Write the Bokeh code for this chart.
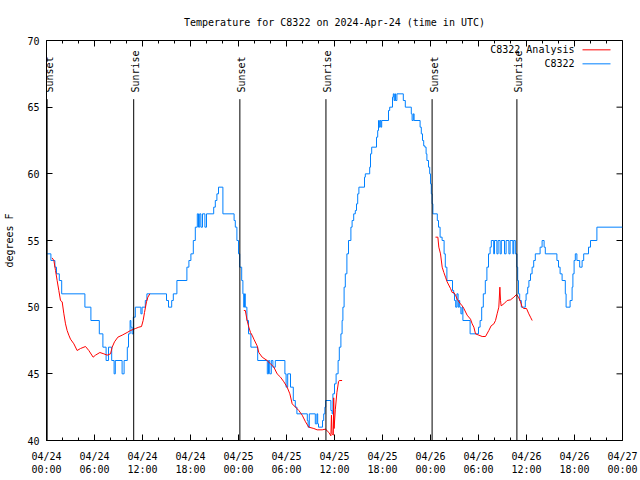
import math
from bokeh.plotting import figure
from bokeh.models import Range1d, FixedTicker
from bokeh.core.properties import value
from bokeh.embed import file_html
from bokeh.resources import INLINE

# ---------------- data ----------------
title_text = "Temperature for C8322 on 2024-Apr-24 (time in UTC)"
y_label = "degrees F"
series_names = ["C8322 Analysis", "C8322"]

# x is hours since 04/24 00:00 UTC
x_ticks = [0, 6, 12, 18, 24, 30, 36, 42, 48, 54, 60, 66, 72]
x_tick_labels = ["04/24\n00:00", "04/24\n06:00", "04/24\n12:00", "04/24\n18:00",
                 "04/25\n00:00", "04/25\n06:00", "04/25\n12:00", "04/25\n18:00",
                 "04/26\n00:00", "04/26\n06:00", "04/26\n12:00", "04/26\n18:00",
                 "04/27\n00:00"]
x_minor = list(range(0, 73, 2))
y_ticks = [40, 45, 50, 55, 60, 65, 70]

event_hours = [0.08, 10.9, 24.17, 34.93, 48.2, 58.8]
event_labels = ["Sunset", "Sunrise", "Sunset", "Sunrise", "Sunset", "Sunrise"]

# C8322 observations (step changes)
obs_h = [0.08, 0.55, 1.05, 1.25, 1.6, 1.9, 4.8, 5.55, 6.6, 7.05, 7.45, 7.75, 8.15, 8.45, 8.6,
         9.45, 9.7, 10.1, 10.25, 10.45, 10.55, 10.7, 10.85, 11.1, 11.8, 11.95, 12.35, 12.55,
         15.0, 15.25, 15.65, 15.85, 16.3, 17.55, 17.8, 18.05, 18.35, 18.6, 18.85, 19.0, 19.15,
         19.3, 19.5, 19.8, 20.0, 20.9, 21.1, 21.3, 21.5, 22.05, 23.45, 23.6, 23.8, 24.0, 24.15,
         24.4, 24.55, 24.65, 24.75, 24.85, 25.05, 25.25, 25.55, 26.4, 27.6, 27.75, 27.9, 28.1,
         28.3, 28.6, 29.8, 29.95, 30.15, 30.5, 30.85, 31.1, 31.3, 32.6, 32.7, 32.85, 33.6, 33.8,
         33.9, 34.0, 34.5, 34.65, 34.8, 34.9, 35.55, 35.7, 35.8, 36.0, 36.2, 36.45, 36.6, 36.8,
         36.95, 37.05, 37.2, 37.35, 37.55, 37.75, 38.05, 38.2, 38.4, 38.6, 38.75, 38.9, 39.05,
         39.75, 39.85, 40.4, 40.5, 40.65, 41.25, 41.4, 41.5, 41.6, 41.7, 41.8, 41.9, 42.75, 42.9,
         43.25, 43.35, 43.45, 43.55, 43.62, 43.8, 44.6, 44.85, 45.6, 45.7, 45.85, 45.95, 46.7,
         46.85, 47.0, 47.15, 47.3, 47.45, 47.55, 47.75, 47.9, 48.0, 48.1, 48.2, 48.3, 48.85,
         49.0, 49.2, 49.45, 49.7, 49.85, 50.05, 50.75, 50.9, 51.0, 51.15, 51.3, 51.45, 51.55,
         51.65, 51.8, 51.95, 52.05, 52.95, 54.0, 54.2, 54.4, 54.6, 54.85, 55.05, 55.25, 55.45,
         55.6, 55.9, 56.0, 56.3, 56.45, 56.7, 56.85, 57.25, 57.45, 57.8, 57.95, 58.3, 58.4,
         58.6, 58.8, 58.9, 59.0, 59.15, 59.35, 59.85, 59.95, 60.15, 60.3, 60.5, 60.7, 60.9,
         61.1, 61.7, 61.95, 62.2, 62.35, 63.8, 64.0, 64.2, 64.45, 64.85, 64.95, 65.45, 65.7,
         65.8, 65.95, 66.1, 66.3, 66.65, 66.95, 67.15, 67.75, 68.0, 68.8, 72.0]
obs_t = [54, 53.5, 53, 52.5, 52, 51, 50, 49, 48, 47, 46, 47, 46, 45, 46,
         45, 46, 47, 48, 49, 48.5, 48, 49.25, 50, 49.5, 50, 50.5, 51,
         50.5, 50, 50.5, 51, 52, 53, 53.5, 54, 55, 56, 57, 56, 57,
         56, 57, 56, 57, 57.5, 58, 58.5, 59, 57, 56.5, 56, 55, 54, 53,
         52, 51, 50, 51, 50, 49, 48, 47, 46, 45, 46, 45, 46,
         45.5, 46, 45, 44, 45, 44, 43, 42.5, 42, 41.5, 41, 42, 41.25, 42,
         41.25, 41, 41.5, 42, 42.5, 43, 42.25, 42, 43.5, 44.25, 45, 46, 47, 48,
         49, 50, 51.5, 52.5, 54, 55, 56, 56.5, 57, 57.25, 57.75, 58.5, 59,
         59.75, 60, 60.5, 61.5, 62, 62.75, 63.25, 64, 63.5, 64, 63.5, 64, 64.75, 65,
         65.75, 66, 65.5, 66, 65.5, 66, 65.5, 65, 64.5, 64, 64.5, 64, 63.5,
         63, 62.5, 62.1, 62, 61.5, 61, 60.5, 60, 59.25, 58.5, 57.75, 57, 56.5,
         56, 55.25, 55, 54, 53, 52, 51.25, 51, 50.5, 50, 51, 50, 50.5,
         50, 49.5, 50, 49, 48, 48.5, 49, 50, 51, 52, 53, 54, 54.5,
         55, 54, 55, 54, 55, 54, 55, 54, 55, 54, 55, 54, 55,
         54, 53, 52, 51, 50.5, 50, 50.5, 51, 51.5, 52, 52.5, 53, 53.5,
         54, 54.5, 55, 54.5, 54, 53.5, 53, 52.5, 52, 51, 50, 50.5, 51.5,
         52.5, 53.5, 54, 53.5, 53, 53.5, 54, 54.5, 55, 56, 56]

# C8322 Analysis (three runs)
ana1_h = [0.7, 0.92, 1.125, 1.33, 1.54, 1.75, 1.96, 2.17, 2.375, 2.58, 2.79, 3.0, 3.42, 3.83,
          4.25, 4.875, 5.29, 5.83, 6.125, 6.67, 7.17, 7.58, 8.0, 8.21, 8.5, 8.92, 9.46, 10.08,
          10.5, 11.125, 11.54, 11.875, 12.08, 12.25, 12.5, 12.67, 12.92]
ana1_t = [53.7, 53.5, 52.75, 52.0, 51.25, 50.5, 50.4, 49.5, 48.75, 48.25, 47.9, 47.6, 47.25, 46.75,
          46.9, 47.05, 46.75, 46.25, 46.4, 46.6, 46.5, 46.4, 46.5, 47.0, 47.4, 47.75, 47.9, 48.1,
          48.25, 48.4, 48.5, 48.55, 49.0, 49.6, 50.4, 50.75, 51.0]
ana2_h = [24.67, 24.85, 25.08, 25.29, 25.5, 25.7, 25.92, 26.33, 26.54, 26.96, 27.58, 28.0, 28.42,
          28.83, 29.25, 29.67, 30.08, 30.42, 30.71, 31.125, 31.54, 31.96, 32.375, 32.79, 33.42,
          33.83, 34.46, 34.875, 35.3, 35.55, 35.62, 35.7, 35.85, 35.9, 35.95, 36.1, 36.3, 36.5,
          36.6, 36.95]
ana2_t = [49.75, 49.75, 49.0, 48.5, 48.1, 47.9, 47.6, 47.1, 46.6, 46.25, 46.0, 45.75, 45.5,
          45.0, 44.75, 44.4, 44.0, 43.5, 42.75, 42.5, 42.25, 41.9, 41.4, 41.0, 40.9,
          40.8, 40.8, 40.85, 40.6, 40.35, 41.9, 40.5, 40.4, 43.2, 40.9, 42.3, 43.6, 44.4,
          44.5, 44.5]
ana3_h = [48.625, 48.92, 49.04, 49.25, 49.46, 49.67, 49.875, 50.08, 50.5, 50.71, 50.92, 51.125,
          51.33, 51.75, 51.96, 52.17, 52.58, 53.0, 53.21, 53.42, 53.625, 54.04, 54.46, 54.875,
          55.29, 55.58, 55.92, 56.125, 56.33, 56.54, 56.67, 56.75, 56.83, 57.17, 57.58, 58.0,
          58.42, 58.75, 59.04, 59.25, 59.46, 59.67, 60.0, 60.29, 60.5, 60.71]
ana3_t = [55.25, 55.25, 54.5, 54.0, 53.0, 52.6, 52.25, 51.9, 51.4, 51.1, 51.1, 50.9,
          50.6, 50.25, 50.1, 49.9, 49.4, 49.1, 48.75, 48.5, 48.0, 47.9, 47.8, 47.8,
          48.25, 48.6, 48.75, 49.0, 49.5, 50.0, 51.5, 50.5, 50.1, 50.25, 50.5, 50.55,
          50.75, 50.95, 50.7, 50.4, 50.0, 49.9, 49.9, 49.5, 49.25, 49.0]

# ---------------- style ----------------
RED = "#ff0000"
BLUE = "#0080ff"
FONT = "DejaVu Sans Mono"
FS = "10px"
X0, X1, Y0, Y1 = 0, 72, 40, 70
EVENT_TOP = 65.6
EVENT_LABEL_Y = 66.1
LEG_TEXT_X, LEG_LINE_X0, LEG_LINE_X1 = 66.0, 67.0, 70.5
LEG_Y = [69.3, 68.25]
MAJOR_TICK, MINOR_TICK = 6, 3

p = figure(width=640, height=480, x_range=Range1d(X0, X1), y_range=Range1d(Y0, Y1),
           output_backend="svg", toolbar_location=None,
           min_border_left=46, min_border_right=18, min_border_top=40, min_border_bottom=40)
p.background_fill_color = "white"
p.border_fill_color = "white"
p.xgrid.visible = False
p.ygrid.visible = False
p.outline_line_color = "black"
p.outline_line_width = 1
p.outline_line_alpha = 1.0

p.title.text = title_text
p.title.align = "center"
p.title.text_font = FONT
p.title.text_font_size = FS
p.title.text_font_style = "normal"
p.title.text_color = "black"
p.title.standoff = 25

def style_axis(ax, ticks, minor):
    ax.ticker = FixedTicker(ticks=ticks, minor_ticks=minor)
    ax.axis_line_color = None
    ax.major_tick_in = MAJOR_TICK
    ax.major_tick_out = 0
    ax.minor_tick_in = MINOR_TICK
    ax.minor_tick_out = 0
    ax.major_tick_line_color = "black"
    ax.minor_tick_line_color = "black"
    ax.major_label_text_font = FONT
    ax.major_label_text_font_size = FS
    ax.major_label_text_color = "black"

xax = p.xaxis[0]
style_axis(xax, x_ticks, x_minor)
xax.major_label_overrides = {t: lab for t, lab in zip(x_ticks, x_tick_labels)}
xax.major_label_standoff = 10

yax = p.yaxis[0]
style_axis(yax, y_ticks, [])
yax.major_label_standoff = 7
yax.axis_label = y_label
yax.axis_label_text_font = FONT
yax.axis_label_text_font_size = FS
yax.axis_label_text_font_style = "normal"
yax.axis_label_text_color = "black"
yax.axis_label_standoff = 9

# series
p.step(obs_h, obs_t, mode="after", line_color=BLUE, line_width=1)
for hh, tt in ((ana1_h, ana1_t), (ana2_h, ana2_t), (ana3_h, ana3_t)):
    p.line(hh, tt, line_color=RED, line_width=1)

# mirrored ticks on top and right border (dash markers clipped by the frame)
p.scatter(x=x_ticks, y=[Y1] * len(x_ticks), marker="dash", size=2 * MAJOR_TICK,
          angle=math.pi / 2, line_color="black", line_width=1)
p.scatter(x=x_minor, y=[Y1] * len(x_minor), marker="dash", size=2 * MINOR_TICK,
          angle=math.pi / 2, line_color="black", line_width=1)
p.scatter(x=[X1] * len(y_ticks), y=y_ticks, marker="dash", size=2 * MAJOR_TICK,
          line_color="black", line_width=1)

# sunrise / sunset markers
n = len(event_hours)
p.segment(x0=event_hours, y0=[Y0] * n, x1=event_hours, y1=[EVENT_TOP] * n,
          line_color="black", line_width=1)
p.text(x=event_hours, y=[EVENT_LABEL_Y] * n, text=event_labels, angle=math.pi / 2,
       text_align="left", text_baseline="middle", x_offset=2,
       text_font=value(FONT), text_font_size=FS, text_color="black")

# key
p.text(x=[LEG_TEXT_X] * 2, y=LEG_Y, text=series_names, text_align="right",
       text_baseline="middle", text_font=value(FONT), text_font_size=FS, text_color="black")
p.segment(x0=[LEG_LINE_X0] * 2, y0=LEG_Y, x1=[LEG_LINE_X1] * 2, y1=LEG_Y,
          line_color=[RED, BLUE], line_width=1)

open("out.html", "w").write(file_html(p, INLINE))
